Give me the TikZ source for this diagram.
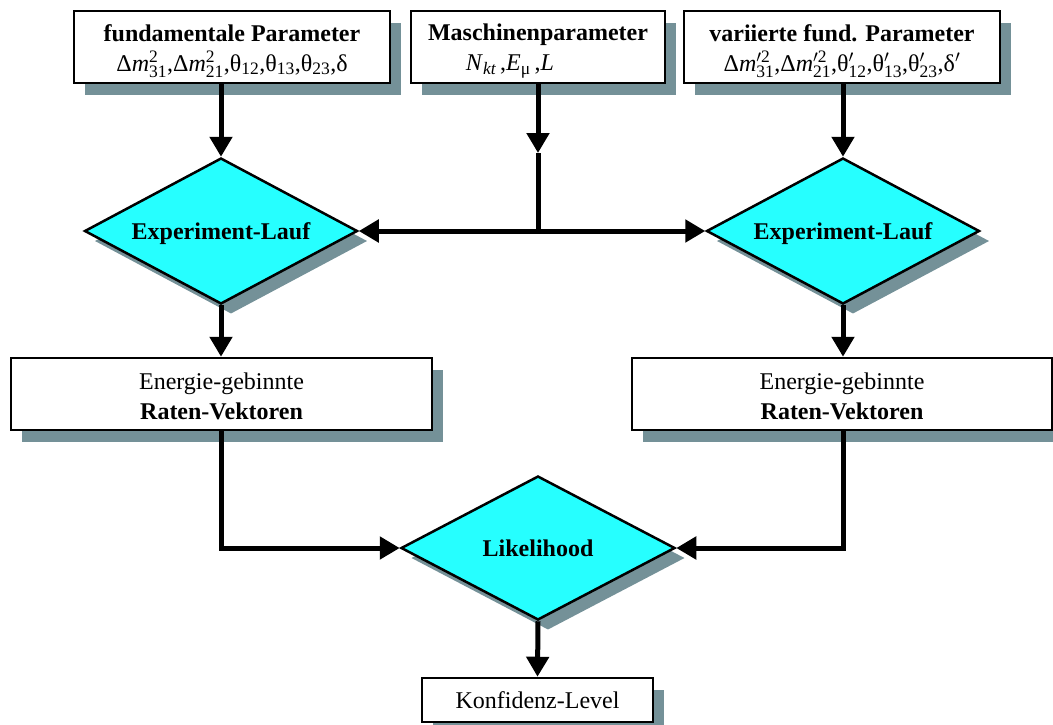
\documentclass[tikz,border=0pt]{standalone}
\usepackage{fontspec}
\setmainfont{Liberation Serif}
\usepackage{amsmath}
\DeclareMathSizes{24}{24}{17.5}{13}
\usetikzlibrary{shapes.geometric,arrows.meta,shadows}
\definecolor{shadowc}{RGB}{116,145,152}
\definecolor{cyanf}{RGB}{38,255,255}
\newcommand{\topstrut}{\rule{0pt}{25pt}}
\newcommand{\lowr}[1]{\raisebox{-3pt}[\height][\depth]{#1}}
\tikzset{
  box/.style={rectangle, draw=black, line width=2.5pt, fill=white, inner sep=0pt,
    align=center, font=\fontsize{24}{30}\selectfont,
    general shadow={fill=shadowc, shadow xshift=11pt, shadow yshift=-12pt}},
  dia/.style={diamond, aspect=1.87, draw=black, line width=2.5pt, fill=cyanf, inner sep=0pt,
    minimum width=273pt, minimum height=146pt, font=\fontsize{24}{28}\selectfont\bfseries,
    general shadow={fill=shadowc, shadow xshift=10pt, shadow yshift=-10pt}},
  conn/.style={line width=5pt},
  arr/.style={conn, -{Triangle[length=20pt,width=22pt]}},
}
\begin{document}
\begin{tikzpicture}[x=1pt,y=-1pt]
\useasboundingbox (0,0) rectangle (1053,724);
\node[box, minimum width=316pt, minimum height=72pt] (p1) at (232,47)
  {\topstrut\textbf{fundamentale Parameter}\\
   Δ\textit{m}$^{\text{2}}_{\text{31}}$,Δ\textit{m}$^{\text{2}}_{\text{21}}$,θ$_{\text{12}}$,θ$_{\text{13}}$,θ$_{\text{23}}$,δ};
\node[box, minimum width=254pt, minimum height=72pt] (p2) at (538,47)
  {\topstrut\textbf{Maschinenparameter}\\
   \textit{N}$_{\textit{kt}}$\,,\textit{E}$_{\text{μ}}$\,,\textit{L}\hspace*{56pt}};
\node[box, minimum width=316pt, minimum height=72pt] (p3) at (842,47)
  {\topstrut\textbf{variierte fund. Parameter}\\
   Δ\textit{m}$^{\prime\text{2}}_{\text{31}}$,Δ\textit{m}$^{\prime\text{2}}_{\text{21}}$,θ$^{\prime}_{\text{12}}$,θ$^{\prime}_{\text{13}}$,θ$^{\prime}_{\text{23}}$,δ$^{\prime}$};
\node[dia] (d1) at (221,231) {\lowr{Experiment-Lauf}};
\node[dia] (d2) at (843,231) {\lowr{Experiment-Lauf}};
\node[box, minimum width=421pt, minimum height=72pt] (e1) at (221.5,394)
  {\rule{0pt}{21pt}Energie-gebinnte\\\textbf{Raten-Vektoren}};
\node[box, minimum width=420pt, minimum height=72pt] (e2) at (842,394)
  {\rule{0pt}{21pt}Energie-gebinnte\\\textbf{Raten-Vektoren}};
\node[dia, minimum width=274pt, minimum height=144pt] (L) at (538,548) {Likelihood};
\node[box, minimum width=231pt, minimum height=44pt] (K) at (537.5,700) {Konfidenz-Level};
\coordinate (m) at (538,153);
\coordinate (j) at (p2.south |- d1.east);
\draw[arr] (d1.north |- p1.south) -- (d1.north);
\draw[arr] (d2.north |- p3.south) -- (d2.north);
\draw[arr] (p2.south) -- (m);
\draw[conn] (m) -- (j);
\draw[arr] (j) -- (d1.east);
\draw[arr] (j) -- (d2.west);
\draw[arr] (d1.south) -- (d1.south |- e1.north);
\draw[arr] (d2.south) -- (d2.south |- e2.north);
\draw[arr] (d1.south |- e1.south) |- (L.west);
\draw[arr] (d2.south |- e2.south) |- (L.east);
\draw[arr] (L.south) -- (K.north);
\end{tikzpicture}
\end{document}
